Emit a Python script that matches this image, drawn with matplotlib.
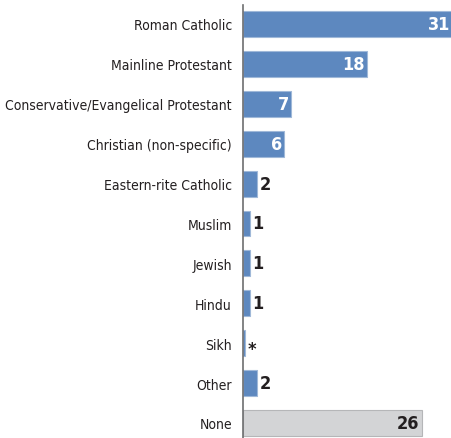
import matplotlib.pyplot as plt
import numpy as np

categories = ["Roman Catholic", "Mainline Protestant",
              "Conservative/Evangelical Protestant", "Christian (non-specific)",
              "Eastern-rite Catholic", "Muslim", "Jewish", "Hindu", "Sikh",
              "Other", "None"]
values = [31, 18, 7, 6, 2, 1, 1, 1, 0.3, 2, 26]
value_labels = ["31", "18", "7", "6", "2", "1", "1", "1", "*", "2", "26"]

blue = "#5d88bf"
gray = "#d3d4d6"
font = "DejaVu Sans"
xmax = 30.4

fig = plt.figure(figsize=(4.52, 4.39), dpi=100)
ax = fig.add_axes([243 / 452, 0, 1 - 243 / 452, 1 - 6 / 439])

y = np.arange(len(categories))
colors = [blue] * (len(categories) - 1) + [gray]
edges = ["#9fb8d8"] * (len(categories) - 1) + ["#b5b6b8"]
ax.barh(y, values, height=0.65, color=colors, edgecolor=edges, linewidth=0.8)

style = dict(va="center", fontsize=13, fontweight="bold", family=font,
             fontstretch="condensed")
for i, (v, lab) in enumerate(zip(values, value_labels)):
    if i == len(values) - 1:
        ax.text(v - 0.3, i, lab, ha="right", color="#231f20", **style)
    elif v >= 5:
        ax.text(min(v, xmax) - 0.3, i, lab, ha="right", color="white", **style)
    else:
        ax.text(v + 0.4, i + (0.15 if lab == "*" else 0), lab, ha="left",
                color="#231f20", **style)

ax.set_xlim(0, xmax)
ax.set_ylim(10.376, -0.476)
ax.set_yticks(y)
ax.set_yticklabels(categories, fontsize=10, family=font,
                   fontstretch="condensed", color="#231f20")
ax.tick_params(axis="y", length=0, pad=8)
ax.set_xticks([])
for s in ["top", "right", "bottom"]:
    ax.spines[s].set_visible(False)
ax.spines["left"].set_color("#6d6e70")
ax.spines["left"].set_linewidth(1.2)

fig.savefig("out.png", dpi=100)
